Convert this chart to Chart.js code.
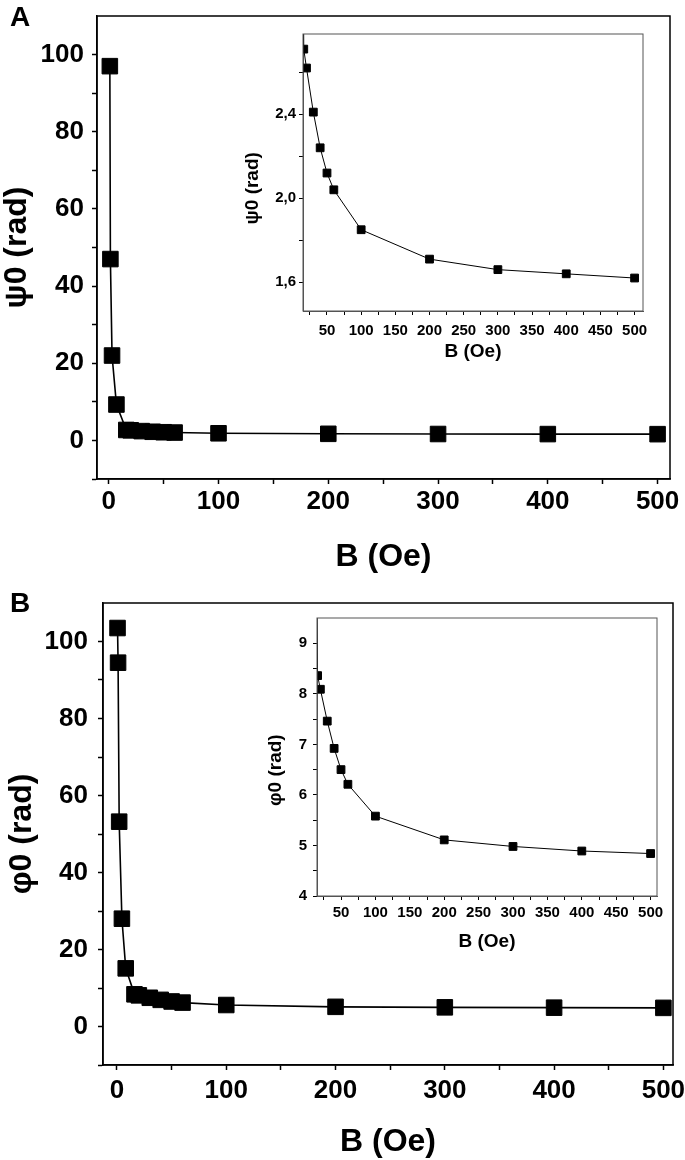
<!DOCTYPE html>
<html>
<head>
<meta charset="utf-8">
<script src="https://cdn.jsdelivr.net/npm/chart.js@4"></script>
<style>
  body { margin: 0; background: #fff; width: 685px; height: 1160px; position: relative; overflow: hidden; }
  canvas { position: absolute; }
  .panel { position: absolute; font-family: "Liberation Sans", Arial, sans-serif; font-weight: bold; font-size: 28px; color: #000; }
</style>
</head>
<body>
<canvas id="mainA" width="685" height="590" style="left:0;top:0"></canvas>
<canvas id="insetA" width="440" height="345" style="left:230px;top:25px"></canvas>
<canvas id="mainB" width="685" height="580" style="left:0;top:580px"></canvas>
<canvas id="insetB" width="440" height="350" style="left:245px;top:608px"></canvas>
<div class="panel" style="left:10px;top:1px">A</div>
<div class="panel" style="left:10px;top:587px">B</div>
<script>
// B field (Oe) and fitted phases (rad)
const fieldA = [1, 1.5, 3, 7, 16, 20, 30, 40, 50, 60, 100, 200, 300, 400, 500];
const psi0 = [97, 47, 22, 9.3, 2.71, 2.62, 2.41, 2.24, 2.12, 2.04, 1.85, 1.71, 1.66, 1.64, 1.62];

const fieldB = [0.5, 1, 2, 4.5, 8, 16, 20, 30, 40, 50, 60, 100, 200, 300, 400, 500];
const phi0 = [103.5, 94.5, 53.2, 28, 15.1, 8.36, 8.09, 7.46, 6.92, 6.5, 6.21, 5.58, 5.11, 4.98, 4.89, 4.84];

// ticks (all) and the ones that get a label
const mainXTicks = [0, 50, 100, 150, 200, 250, 300, 350, 400, 450, 500];
const mainXLabels = [0, 100, 200, 300, 400, 500];
const mainYTicks = [-10, 0, 10, 20, 30, 40, 50, 60, 70, 80, 90, 100];
const mainYLabels = [0, 20, 40, 60, 80, 100];
const insetXTicks = [25, 50, 75, 100, 125, 150, 175, 200, 225, 250, 275, 300, 325, 350, 375, 400, 425, 450, 475, 500];
const insetXLabels = [50, 100, 150, 200, 250, 300, 350, 400, 450, 500];
const insetAYTicks = [1.6, 1.8, 2.0, 2.2, 2.4, 2.6];
const insetAYLabels = [1.6, 2.0, 2.4];
const insetBYTicks = [4, 4.5, 5, 5.5, 6, 6.5, 7, 7.5, 8, 8.5, 9];
const insetBYLabels = [4, 5, 6, 7, 8, 9];

const FONT = "'Liberation Sans', Arial, sans-serif";

const framePlugin = {
  id: 'frame',
  afterDraw(chart, args, o) {
    const { ctx, chartArea: a } = chart;
    ctx.save();
    ctx.strokeStyle = o.color;
    ctx.lineWidth = o.width;
    ctx.strokeRect(a.left, a.top, a.right - a.left, a.bottom - a.top);
    ctx.restore();
  }
};

function axis(o) {
  return {
    type: 'linear',
    position: o.pos,
    min: o.min,
    max: o.max,
    afterBuildTicks: s => { s.ticks = o.ticks.map(v => ({ value: v })); },
    afterFit: s => {
      if (o.pos === 'bottom') { s.height = o.size; s.paddingLeft = 0; s.paddingRight = 0; }
      else { s.width = o.size; s.paddingTop = 0; s.paddingBottom = 0; }
    },
    ticks: {
      autoSkip: false, maxRotation: 0, padding: o.pad, color: '#000',
      font: { family: FONT, size: o.fs, weight: 'bold' },
      callback: v => o.labels.includes(v) ? (o.fmt ? o.fmt(v) : String(v)) : ''
    },
    grid: { drawOnChartArea: false, drawTicks: true, tickLength: o.tl, tickColor: '#000', tickWidth: o.lw, color: '#000' },
    border: { display: true, color: o.frame, width: o.lw },
    title: {
      display: true, text: o.title, color: '#000',
      font: { family: FONT, size: o.ts, weight: 'bold', lineHeight: 1 },
      padding: { top: o.tp, bottom: o.tp }
    }
  };
}

function plot(id, xs, ys, p) {
  new Chart(document.getElementById(id), {
    type: 'scatter',
    data: {
      datasets: [{
        data: xs.map((x, i) => ({ x: x, y: ys[i] })),
        showLine: true,
        borderColor: '#000',
        borderWidth: p.line,
        pointStyle: 'rect',
        pointRadius: p.r,
        pointHoverRadius: p.r,
        pointBackgroundColor: '#000',
        pointBorderColor: '#000',
        pointBorderWidth: 1
      }]
    },
    options: {
      responsive: false,
      animation: false,
      devicePixelRatio: 1,
      layout: { padding: p.padding },
      plugins: { legend: { display: false }, tooltip: { enabled: false }, frame: { color: p.frame, width: p.lw } },
      scales: { x: axis(p.x), y: axis(p.y) }
    },
    plugins: [framePlugin]
  });
}

const comma = v => v.toFixed(1).replace('.', ',');

plot('mainA', fieldA, psi0, {
  line: 1.6, r: 11, frame: '#000', lw: 1.5,
  padding: { left: 0, top: 16, right: 15, bottom: 0 },
  x: { pos: 'bottom', min: -10.7, max: 511.3, ticks: mainXTicks, labels: mainXLabels, size: 111, pad: 2.4, fs: 26, tl: 5, lw: 1.5, frame: '#000', title: 'B (Oe)', ts: 32, tp: 17 },
  y: { pos: 'left', min: -10, max: 110, ticks: mainYTicks, labels: mainYLabels, size: 97, pad: 8, fs: 26, tl: 5, lw: 1.5, frame: '#000', title: 'ψ0 (rad)', ts: 32, tp: 1.5 }
});

// trailing spaces push the rotated inset titles a little below centre, as in the figure
plot('insetA', fieldA, psi0, {
  line: 1, r: 5.5, frame: '#555', lw: 1,
  padding: { left: 0, top: 9, right: 27, bottom: 0 },
  x: { pos: 'bottom', min: 14.9, max: 512.3, ticks: insetXTicks, labels: insetXLabels, size: 59, pad: 7, fs: 15, tl: 4, lw: 1, frame: '#555', title: 'B (Oe)', ts: 19, tp: 8.5 },
  y: { pos: 'left', min: 1.463, max: 2.782, ticks: insetAYTicks, labels: insetAYLabels, fmt: comma, size: 73, pad: 3, fs: 15, tl: 4, lw: 1, frame: '#555', title: 'ψ0 (rad)      ', ts: 19, tp: 13 }
});

plot('mainB', fieldB, phi0, {
  line: 1.6, r: 11, frame: '#000', lw: 1.5,
  padding: { left: 0, top: 23, right: 7, bottom: 0 },
  x: { pos: 'bottom', min: -12.8, max: 508.8, ticks: mainXTicks, labels: mainXLabels, size: 95, pad: 5.4, fs: 26, tl: 5, lw: 1.5, frame: '#000', title: 'B (Oe)', ts: 32, tp: 2 },
  y: { pos: 'left', min: -10, max: 110, ticks: mainYTicks, labels: mainYLabels, size: 103, pad: 10, fs: 26, tl: 5, lw: 1.5, frame: '#000', title: 'φ0 (rad)', ts: 32, tp: 6 }
});

plot('insetB', fieldB, phi0, {
  line: 1, r: 5.5, frame: '#555', lw: 1,
  padding: { left: 0, top: 10, right: 28, bottom: 0 },
  x: { pos: 'bottom', min: 15.1, max: 509.3, ticks: insetXTicks, labels: insetXLabels, size: 62, pad: 4, fs: 15, tl: 4, lw: 1, frame: '#555', title: 'B (Oe)', ts: 19, tp: 6.8 },
  y: { pos: 'left', min: 4, max: 9.5, ticks: insetBYTicks, labels: insetBYLabels, size: 72, pad: 6, fs: 15, tl: 4, lw: 1, frame: '#555', title: 'φ0 (rad)     ', ts: 19, tp: 21.5 }
});
</script>
</body>
</html>
